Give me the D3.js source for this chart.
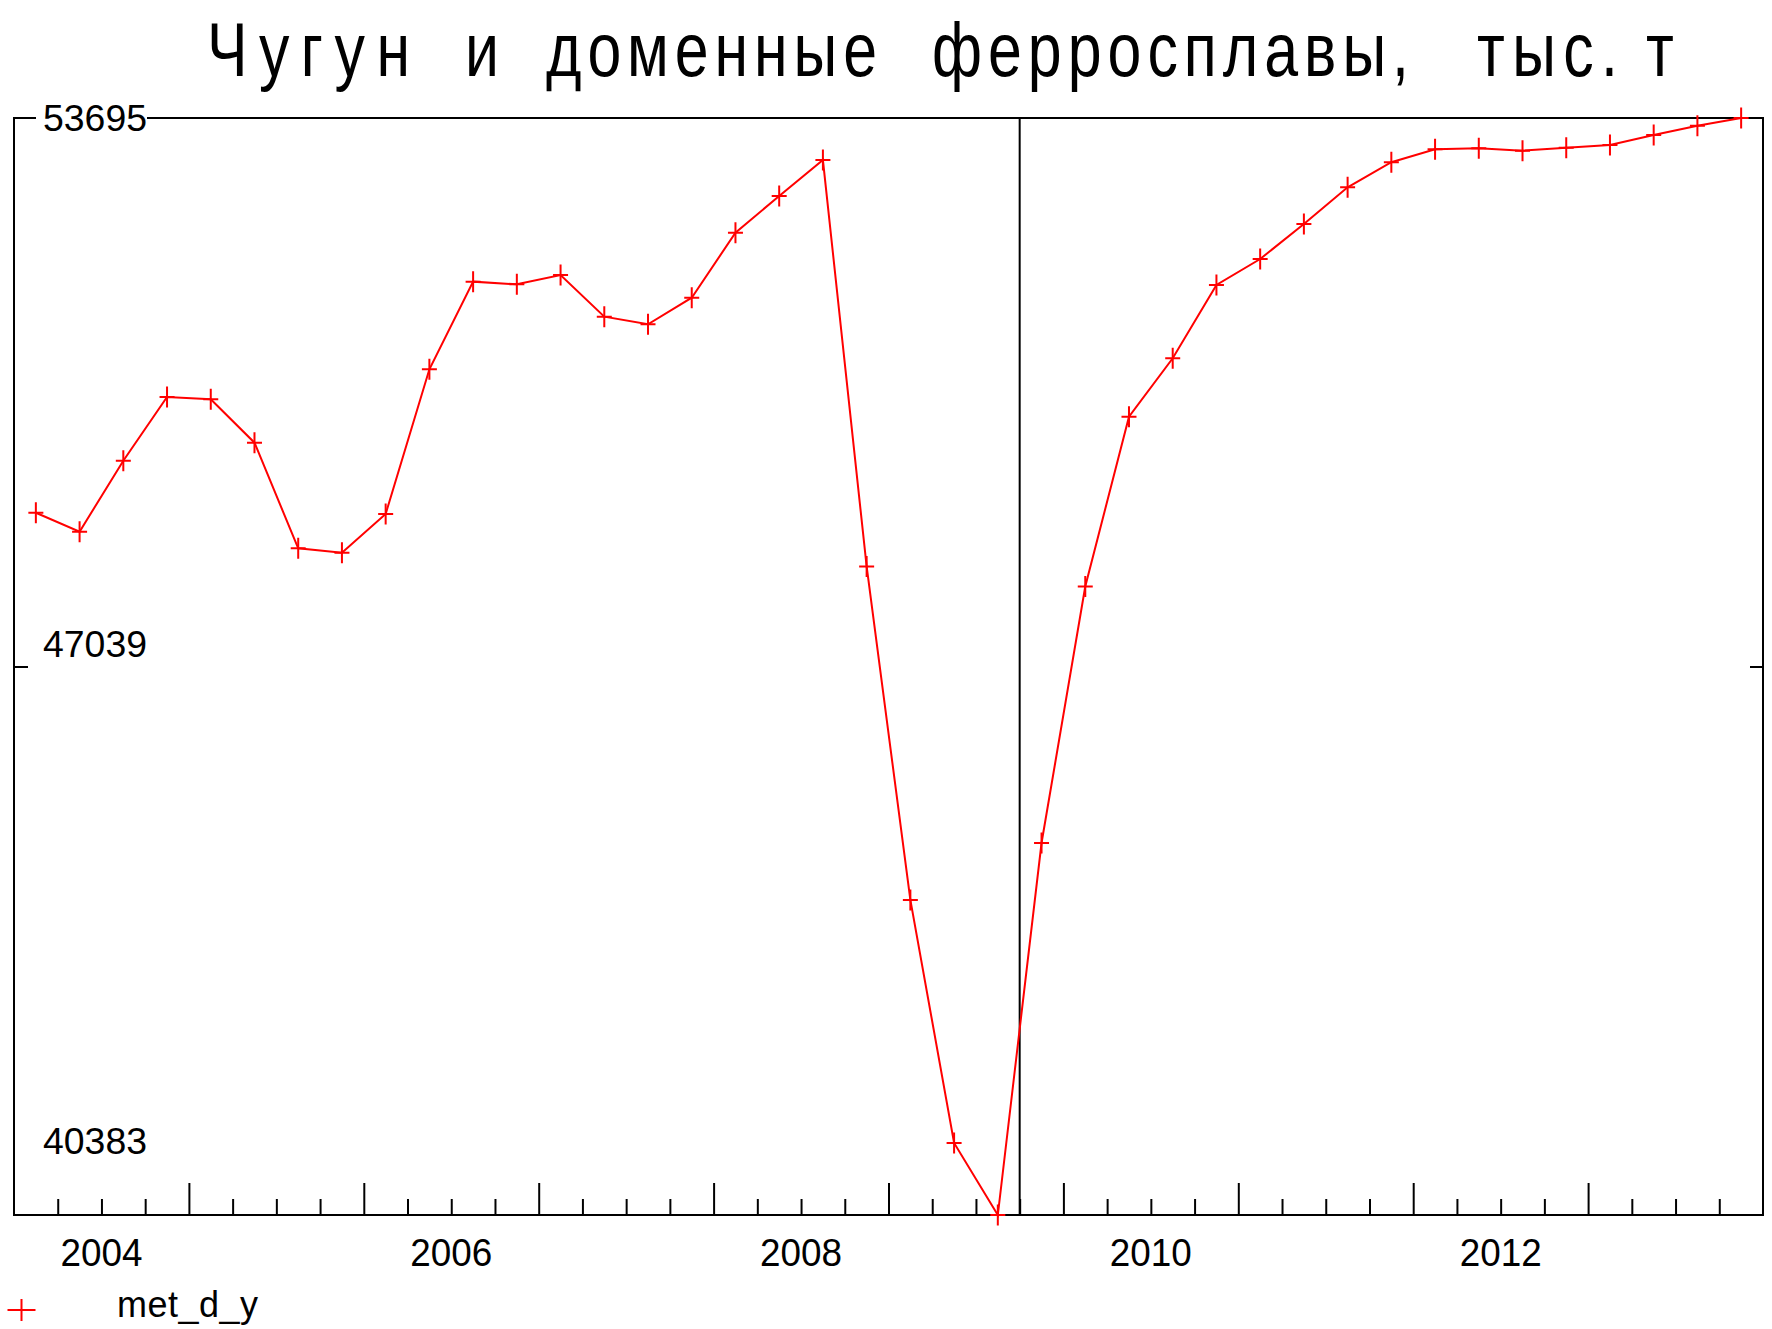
<!DOCTYPE html>
<html><head><meta charset="utf-8">
<script src="https://cdn.jsdelivr.net/npm/d3@7"></script>
<style>html,body{margin:0;padding:0;background:#fff;} svg{display:block;}</style>
</head><body>
<script>
// ---- data ----
const periods = [
  "2004Q1","2004Q2","2004Q3","2004Q4","2005Q1","2005Q2","2005Q3","2005Q4",
  "2006Q1","2006Q2","2006Q3","2006Q4","2007Q1","2007Q2","2007Q3","2007Q4",
  "2008Q1","2008Q2","2008Q3","2008Q4","2009Q1","2009Q2","2009Q3","2009Q4",
  "2010Q1","2010Q2","2010Q3","2010Q4","2011Q1","2011Q2","2011Q3","2011Q4",
  "2012Q1","2012Q2","2012Q3","2012Q4","2013Q1","2013Q2","2013Q3","2013Q4"
];
const values = [
  48905, 48675, 49536, 50309, 50282, 49755, 48473, 48420,
  48890, 50646, 51709, 51677, 51790, 51284, 51192, 51514,
  52303, 52749, 53185, 48253, 44206, 41257, 40383, 44897,
  48010, 50070, 50779, 51669, 51984, 52409, 52854, 53158,
  53315, 53327, 53298, 53335, 53367, 53489, 53602, 53695
];
const yTickValues = [40383, 47039, 53695];
const xLabelYears = [2004, 2006, 2008, 2010, 2012];
const dividerAfter = "2009Q3";
const seriesName = "met_d_y";
const titleWords = ["Чугун", "и", "доменные", "ферросплавы,", "тыс.", "т"];

// ---- layout ----
const W = 1772, H = 1329;
const L = 14, R = 1763, T = 118, B = 1215;
const FONT = "'Liberation Sans', Arial, sans-serif";

const svg = d3.select("body").append("svg").attr("width", W).attr("height", H)
  .style("font-family", FONT);

const toYear = p => +p.slice(0, 4) + (+p.slice(5) - 0.5) / 4;
const firstYear = +periods[0].slice(0, 4);
const lastYear = +periods[periods.length - 1].slice(0, 4) + 1;

const x = d3.scaleLinear().domain([firstYear, lastYear]).range([L, R]);
const y = d3.scaleLinear().domain([d3.min(yTickValues), d3.max(yTickValues)]).range([B, T]);

// title (condensed glyphs)
const SX = 0.8;
const titleBoxes = [[207, 410], [465, 499], [546, 877], [932, 1409], [1477, 1618], [1646, 1683]];
const tg = svg.append("g").attr("transform", `scale(${SX},1)`);
titleWords.forEach((w, i) => {
  tg.append("text")
    .attr("x", titleBoxes[i][0] / SX).attr("y", 76)
    .attr("font-size", 76)
    .attr("textLength", (titleBoxes[i][1] - titleBoxes[i][0]) / SX)
    .attr("lengthAdjust", "spacing")
    .text(w);
});

// x ticks
const years = d3.range(firstYear + 1, lastYear);
const quarters = d3.range(firstYear * 4 + 1, lastYear * 4).map(q => q / 4).filter(v => v % 1 !== 0);
const styleAxis = g => {
  g.select(".domain").remove();
  g.selectAll(".tick line").attr("stroke", "#000").attr("stroke-width", 2);
};
svg.append("g").attr("transform", `translate(0,${B})`)
  .call(d3.axisBottom(x).tickValues(quarters).tickSize(-16).tickFormat(""))
  .call(styleAxis);
svg.append("g").attr("transform", `translate(0,${B})`)
  .call(d3.axisBottom(x).tickValues(years).tickSize(-32).tickFormat(""))
  .call(styleAxis);

// x labels (centered on the year)
svg.append("g").selectAll("text").data(xLabelYears).join("text")
  .attr("x", d => x(d + 0.5)).attr("y", 1266)
  .attr("text-anchor", "middle").attr("font-size", 38)
  .attr("textLength", 82).attr("lengthAdjust", "spacingAndGlyphs")
  .text(d => d);

// y ticks (inner)
const midTicks = yTickValues.filter(v => v !== y.domain()[0] && v !== y.domain()[1]);
svg.append("g").attr("transform", `translate(${L},0)`)
  .call(d3.axisLeft(y).tickValues(midTicks).tickSize(-14).tickFormat(""))
  .call(styleAxis);
svg.append("g").attr("transform", `translate(${R},0)`)
  .call(d3.axisRight(y).tickValues(midTicks).tickSize(-13).tickFormat(""))
  .call(styleAxis);

// frame
svg.append("rect").attr("x", L).attr("y", T).attr("width", R - L).attr("height", B - T)
  .attr("fill", "none").attr("stroke", "#000").attr("stroke-width", 2);

// divider
const divX = x(toYear(dividerAfter) + 0.125);
svg.append("line").attr("x1", divX).attr("x2", divX).attr("y1", T).attr("y2", B)
  .attr("stroke", "#000").attr("stroke-width", 2);

// y labels
const labelShift = v => v === y.domain()[1] ? 12.5 : (v === y.domain()[0] ? -61 : -10);
const yl = svg.append("g");
yl.append("rect").attr("x", 36).attr("y", y(y.domain()[1]) - 16).attr("width", 111).attr("height", 32).attr("fill", "#fff");
yl.selectAll("text").data(yTickValues).join("text")
  .attr("x", 43).attr("y", d => y(d) + labelShift(d))
  .attr("font-size", 36).attr("textLength", 104).attr("lengthAdjust", "spacingAndGlyphs")
  .text(d => d);

// series
const pts = periods.map((p, i) => [toYear(p), values[i]]);
svg.append("path").datum(pts)
  .attr("d", d3.line().x(d => x(d[0])).y(d => y(d[1])))
  .attr("fill", "none").attr("stroke", "#ff0000").attr("stroke-width", 2);
svg.append("g").selectAll("path").data(pts).join("path")
  .attr("transform", d => `translate(${x(d[0])},${y(d[1])})`)
  .attr("d", "M-7.5,0H7.5M0,-10.5V10.5")
  .attr("stroke", "#ff0000").attr("stroke-width", 2).attr("fill", "none");

// legend
svg.append("path").attr("transform", "translate(21.5,1310)")
  .attr("d", "M-14,0H14M0,-11V11")
  .attr("stroke", "#ff0000").attr("stroke-width", 2);
svg.append("text").attr("x", 117).attr("y", 1317).attr("font-size", 36)
  .attr("textLength", 141).attr("lengthAdjust", "spacing")
  .text(seriesName);
</script>
</body></html>
